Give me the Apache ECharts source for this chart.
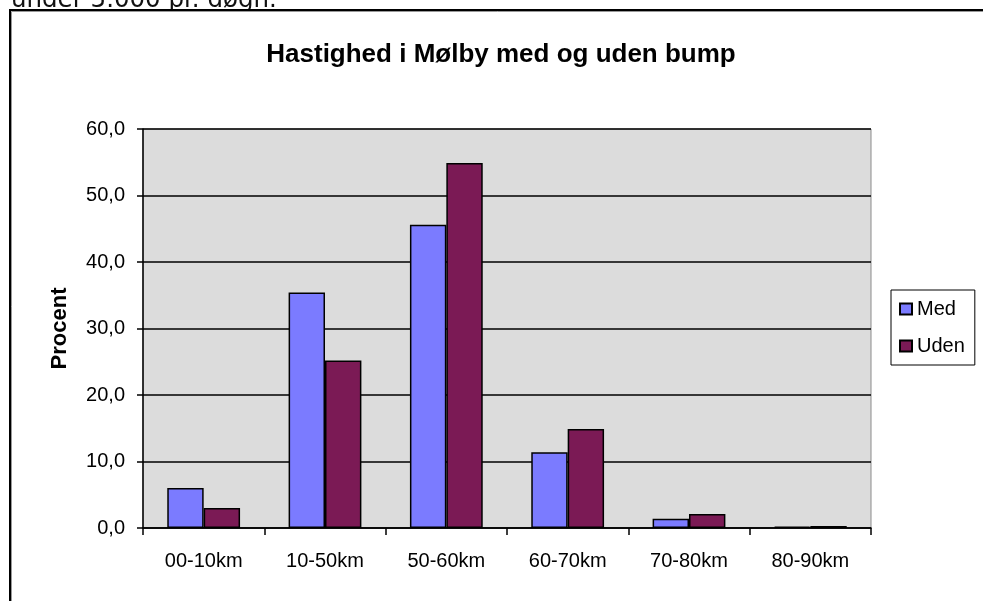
<!DOCTYPE html>
<html>
<head>
<meta charset="utf-8">
<script src="https://cdn.jsdelivr.net/npm/echarts@6/dist/echarts.min.js"></script>
<style>
html,body{margin:0;padding:0;background:#fff;}
#chart{width:983px;height:601px;}
</style>
</head>
<body>
<div id="chart"></div>
<script>
var categories = ['00-10km', '10-50km', '50-60km', '60-70km', '70-80km', '80-90km'];
var medValues = [6.0, 35.4, 45.6, 11.4, 1.4, 0.2];
var udenValues = [3.0, 25.2, 54.9, 14.9, 2.1, 0.3];
var seriesNames = ['Med', 'Uden'];
var titleText = 'Hastighed i Mølby med og uden bump';
var yAxisName = 'Procent';
var topNote = 'under 5.000 pr. døgn.';

var chart = echarts.init(document.getElementById('chart'));
var font = 'Liberation Sans, Arial, sans-serif';
chart.setOption({
  animation: false,
  backgroundColor: '#ffffff',
  title: {
    text: titleText,
    left: 501,
    top: 42,
    textAlign: 'center',
    padding: 0,
    textStyle: { fontFamily: font, fontSize: 26, fontWeight: 'bold', color: '#000' }
  },
  graphic: [
    {
      type: 'text', left: 11, top: -12, silent: true,
      style: { text: topNote, font: '24.5px DejaVu Sans, Verdana, sans-serif', fill: '#111' }
    },
    {
      type: 'polyline', silent: true,
      shape: { points: [[10, 601], [10, 10], [983, 10]] },
      style: { stroke: '#000', lineWidth: 2, fill: null }
    },
    {
      type: 'polyline', silent: true,
      shape: { points: [[11.5, 601], [11.5, 11.5], [983, 11.5]] },
      style: { stroke: '#999', lineWidth: 1, fill: null }
    }
  ],
  legend: {
    orient: 'vertical',
    left: 891,
    top: 290,
    padding: [9, 10, 9, 8],
    itemGap: 17,
    itemWidth: 12,
    itemHeight: 11,
    itemTextGap: 5,
    icon: 'rect',
    borderColor: '#000',
    borderWidth: 1,
    backgroundColor: '#fff',
    textStyle: { fontFamily: font, fontSize: 20, color: '#000' },
    data: seriesNames
  },
  grid: {
    left: 143, right: 112, top: 129, bottom: 73,
    show: true,
    backgroundColor: '#dcdcdc',
    borderColor: '#8c8c8c',
    borderWidth: 1
  },
  xAxis: {
    type: 'category',
    data: categories,
    axisLine: { lineStyle: { color: '#000', width: 1.5 } },
    axisTick: { show: true, length: 7, lineStyle: { color: '#000', width: 1.5 } },
    axisLabel: { margin: 23, fontFamily: font, fontSize: 20, color: '#000' }
  },
  yAxis: {
    type: 'value',
    min: 0, max: 60, interval: 10,
    name: yAxisName,
    nameLocation: 'middle',
    nameGap: 72,
    nameTextStyle: { fontFamily: font, fontSize: 22, fontWeight: 'bold', color: '#000' },
    axisLine: { show: true, lineStyle: { color: '#000', width: 1.5 } },
    axisTick: { show: true, length: 6, lineStyle: { color: '#000', width: 1.5 } },
    axisLabel: {
      margin: 18, fontFamily: font, fontSize: 20, color: '#000',
      formatter: function (v) { return v.toFixed(1).replace('.', ','); }
    },
    splitLine: { lineStyle: { color: '#000', width: 1.5 } }
  },
  series: [
    {
      name: seriesNames[0], type: 'bar', data: medValues,
      barGap: '0%', barCategoryGap: '40%',
      itemStyle: { color: '#7b7bff', borderColor: '#000', borderWidth: 1.5 }
    },
    {
      name: seriesNames[1], type: 'bar', data: udenValues,
      barGap: '0%', barCategoryGap: '40%',
      itemStyle: { color: '#7b1a55', borderColor: '#000', borderWidth: 1.5 }
    }
  ]
});
</script>
</body>
</html>
